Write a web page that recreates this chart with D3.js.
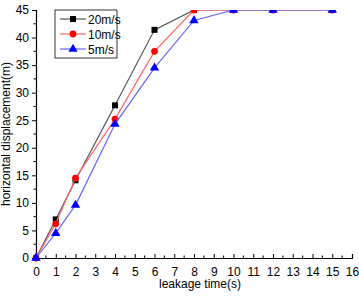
<!DOCTYPE html>
<html lang="en">
<head>
  <meta charset="UTF-8">
  <title>Horizontal displacement</title>
  <style>
    body { margin: 0; background: #fff; }
    text { font-family: "Liberation Sans", Arial, sans-serif; }
  </style>
</head>
<body>
<script src="https://d3js.org/d3.v7.min.js"></script>
<div id="chart"></div>
<script>
    // data
    const times = [0, 1, 2, 4, 6, 8, 10, 12, 15];
    const v20 = [0, 7.0, 14.1, 27.7, 41.4, 45, 45, 45, 45];
    const v10 = [0, 6.2, 14.5, 25.2, 37.5, 45, 45, 45, 45];
    const v5  = [0, 4.5, 9.6, 24.3, 34.5, 43.1, 45, 45, 45];
    const seriesNames = ["20m/s", "10m/s", "5m/s"];
    const xTicks = d3.range(0, 17);
    const yTicks = d3.range(0, 50, 5);

    const series = [
      {name: seriesNames[0], values: v20, color: "#000000", line: "#555555", shape: d3.symbolSquare},
      {name: seriesNames[1], values: v10, color: "#ff0000", line: "#ff6666", shape: d3.symbolCircle},
      {name: seriesNames[2], values: v5,  color: "#0000ff", line: "#6666ff", shape: d3.symbolTriangle}
    ];

    // dimensions
    const margin = {top: 10, right: 7, bottom: 38, left: 36},
        width = 359 - margin.left - margin.right,
        height = 296 - margin.top - margin.bottom;

    const svg = d3.select("#chart")
      .append("svg")
        .attr("width", 359)
        .attr("height", 296)
      .append("g")
        .attr("transform", `translate(${margin.left},${margin.top})`);

    const x = d3.scaleLinear().domain([0, 16]).range([0, width]);
    const y = d3.scaleLinear().domain([0, 45]).range([height, 0]);

    svg.append("clipPath").attr("id", "clip")
      .append("rect").attr("x", -6).attr("y", 0).attr("width", width + 12).attr("height", height + 6);

    // axes
    const xAxis = svg.append("g")
      .attr("transform", `translate(0,${height})`)
      .call(d3.axisBottom(x).tickValues(xTicks).tickSize(-4).tickPadding(9).tickFormat(d3.format("d")));
    xAxis.append("g").selectAll("line")
      .data(d3.range(0.5, 16, 1))
      .join("line")
        .attr("x1", d => x(d)).attr("x2", d => x(d))
        .attr("y1", 0).attr("y2", -2.5)
        .attr("stroke", "#000");

    const yAxis = svg.append("g")
      .call(d3.axisLeft(y).tickValues(yTicks).tickSize(4).tickPadding(3));
    yAxis.append("g").selectAll("line")
      .data(d3.range(2.5, 45, 5))
      .join("line")
        .attr("x1", 0).attr("x2", -2.5)
        .attr("y1", d => y(d)).attr("y2", d => y(d))
        .attr("stroke", "#000");

    svg.selectAll(".domain").attr("stroke", "#000").attr("stroke-width", 1.2);
    svg.selectAll(".tick text").attr("font-size", 12).attr("fill", "#000");

    // axis titles
    svg.append("text")
      .attr("x", width / 2 + 6).attr("y", height + 30)
      .attr("text-anchor", "middle").attr("font-size", 12)
      .text("leakage time(s)");
    svg.append("text")
      .attr("transform", `translate(-26,${height / 2}) rotate(-90)`)
      .attr("text-anchor", "middle").attr("font-size", 12)
      .text("horizontal displacement(m)");

    // lines
    const plot = svg.append("g").attr("clip-path", "url(#clip)");
    const line = d3.line().x((d, i) => x(times[i])).y(d => y(d));

    series.forEach(s => {
      plot.append("path")
        .datum(s.values)
        .attr("fill", "none")
        .attr("stroke", s.line)
        .attr("stroke-width", 1.2)
        .attr("d", line);
      plot.selectAll(null)
        .data(s.values)
        .join("path")
          .attr("transform", (d, i) => `translate(${x(times[i])},${y(d)})`)
          .attr("d", d3.symbol().type(s.shape).size(s.shape === d3.symbolTriangle ? 38 : 36))
          .attr("fill", s.color);
    });

    // legend
    const legend = svg.append("g").attr("transform", "translate(19,0)");
    legend.append("rect")
      .attr("width", 62).attr("height", 48)
      .attr("fill", "#fff").attr("stroke", "#000").attr("stroke-width", 0.8);
    series.forEach((s, i) => {
      const g = legend.append("g").attr("transform", `translate(0,${9 + i * 15})`);
      g.append("line").attr("x1", 5).attr("x2", 31).attr("stroke", s.line).attr("stroke-width", 1.2);
      g.append("path").attr("transform", "translate(18,0)")
        .attr("d", d3.symbol().type(s.shape).size(36)).attr("fill", s.color);
      g.append("text").attr("x", 33).attr("y", 4.5).attr("font-size", 12).text(s.name);
    });
</script>
</body>
</html>
